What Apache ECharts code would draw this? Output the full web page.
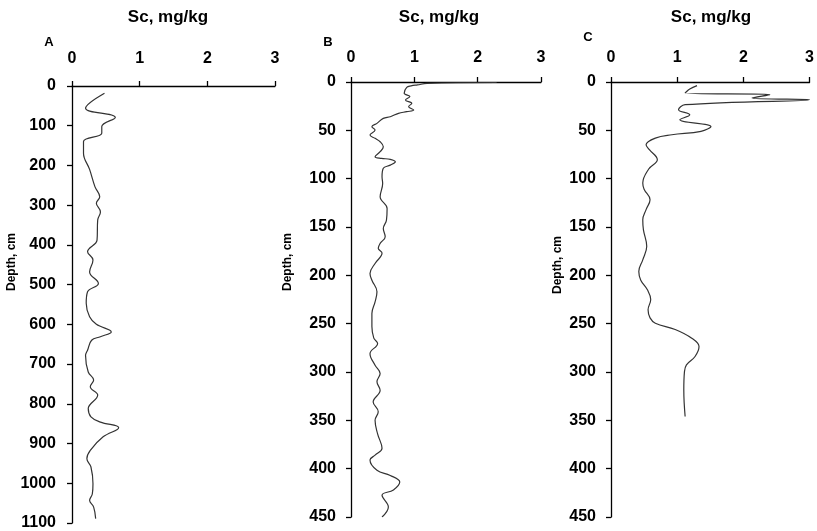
<!DOCTYPE html>
<html>
<head>
<meta charset="utf-8">
<script src="https://cdn.jsdelivr.net/npm/echarts@6/dist/echarts.min.js"></script>
<style>
  html, body { margin: 0; padding: 0; background: #fff; }
  #chart { width: 817px; height: 531px; }
</style>
</head>
<body>
<div id="chart"></div>
<script>
  // 剖面 A
  var depthA = [18, 56, 79, 102, 119, 140, 169, 210, 254, 279, 295, 317, 337, 388, 417, 438, 468, 497, 518, 547, 581, 600, 619, 631, 640, 665, 678, 720, 740, 757, 778, 812, 833, 846, 860, 883, 917, 938, 959, 1001, 1027, 1043, 1060, 1089];
  var scA = [0.48, 0.20, 0.64, 0.44, 0.44, 0.17, 0.17, 0.26, 0.34, 0.41, 0.36, 0.42, 0.38, 0.37, 0.23, 0.31, 0.26, 0.39, 0.23, 0.21, 0.26, 0.36, 0.58, 0.42, 0.29, 0.23, 0.20, 0.24, 0.32, 0.27, 0.38, 0.24, 0.28, 0.42, 0.69, 0.46, 0.27, 0.22, 0.28, 0.31, 0.30, 0.26, 0.32, 0.35];
  // 剖面 B
  var depthB = [0.5, 1.5, 3, 4, 5.5, 11.7, 15, 18.6, 22, 25.5, 29, 30.7, 32.4, 35.9, 37.6, 42.8, 46.2, 49.7, 54.9, 58.3, 61.8, 67, 72.1, 77.3, 79, 80, 82.5, 86, 89.3, 98, 105, 118.7, 130.8, 142.9, 151.5, 160, 167, 172, 177, 187.7, 198, 205, 217, 227.5, 239.5, 253, 265, 270.5, 281, 293, 301.6, 310, 319, 331, 341, 350, 364, 379, 386, 391, 401.6, 407, 413.8, 422, 427.5, 439.6, 450];
  var scB = [2.3, 1.2, 1.05, 0.95, 0.88, 0.84, 0.93, 0.86, 0.96, 0.91, 0.99, 0.88, 0.75, 0.62, 0.51, 0.41, 0.33, 0.38, 0.30, 0.38, 0.46, 0.51, 0.46, 0.38, 0.48, 0.62, 0.70, 0.62, 0.51, 0.49, 0.50, 0.46, 0.57, 0.56, 0.51, 0.54, 0.46, 0.43, 0.49, 0.38, 0.30, 0.33, 0.41, 0.38, 0.33, 0.33, 0.36, 0.42, 0.30, 0.38, 0.46, 0.41, 0.46, 0.35, 0.43, 0.38, 0.42, 0.49, 0.38, 0.30, 0.41, 0.62, 0.77, 0.67, 0.49, 0.59, 0.49];
  // 剖面 C
  var depthC = [3.8, 7.3, 11.4, 13.1, 16.6, 18.3, 23.5, 28.7, 33.9, 39, 46, 51, 54.6, 58, 65, 70, 80.4, 90, 104.5, 111, 121.8, 132, 142.5, 153, 170, 184, 196, 205, 215, 225, 235.7, 244, 249.5, 256, 265, 273.7, 284, 292.6, 299.6, 318.5, 346];
  var scC = [1.30, 1.19, 1.12, 2.40, 2.13, 3.0, 1.12, 1.02, 1.19, 1.04, 1.51, 1.36, 0.92, 0.67, 0.53, 0.58, 0.70, 0.57, 0.48, 0.50, 0.59, 0.53, 0.48, 0.49, 0.54, 0.48, 0.42, 0.45, 0.55, 0.60, 0.56, 0.59, 0.67, 0.97, 1.22, 1.33, 1.27, 1.14, 1.11, 1.10, 1.12];

  function zip(xs, ys) {
    var out = [];
    for (var i = 0; i < xs.length; i++) out.push([xs[i], ys[i]]);
    return out;
  }

  var labelFont = { fontFamily: 'Liberation Sans, Arial, sans-serif', fontWeight: 'bold', fontSize: 16, color: '#000' };
  var axisLine = { show: true, lineStyle: { color: '#000', width: 1.3 } };
  var axisTick = { show: true, length: 5, lineStyle: { color: '#000', width: 1.3 } };

  function xAxisFor(i, margin) {
    return {
      gridIndex: i, type: 'value', position: 'top', min: 0, max: 3, interval: 1,
      axisLine: axisLine, axisTick: axisTick, splitLine: { show: false },
      axisLabel: Object.assign({ margin: margin, formatter: function (v) { return String(v); } }, labelFont)
    };
  }
  function yAxisFor(i, max, step, margin) {
    return {
      gridIndex: i, type: 'value', inverse: true, min: 0, max: max, interval: step,
      axisLine: axisLine, axisTick: axisTick, splitLine: { show: false },
      axisLabel: Object.assign({ margin: margin, formatter: function (v) { return String(v); } }, labelFont)
    };
  }
  function profile(i, data) {
    return {
      type: 'line', xAxisIndex: i, yAxisIndex: i, data: data, smooth: 0.4,
      showSymbol: false, symbol: 'none',
      lineStyle: { color: '#333', width: 1.2 }
    };
  }

  var titleFont = { fontFamily: 'Liberation Sans, Arial, sans-serif', fontWeight: 'bold', fontSize: 17, color: '#000' };
  var letterFont = { fontFamily: 'Liberation Sans, Arial, sans-serif', fontWeight: 'bold', fontSize: 13, color: '#000' };

  function depthLabel(x, y) {
    return {
      type: 'text', x: x, y: y, rotation: Math.PI / 2,
      style: { text: 'Depth, cm', fill: '#000', font: 'bold 12px "Liberation Sans", Arial, sans-serif', textAlign: 'center', textVerticalAlign: 'middle' }
    };
  }

  var chart = echarts.init(document.getElementById('chart'));
  chart.setOption({
    backgroundColor: '#fff',
    animation: false,
    title: [
      { text: 'Sc, mg/kg', left: 163, top: 4, textAlign: 'center', textStyle: titleFont },
      { text: 'A', left: 44, top: 31, textAlign: 'center', textStyle: letterFont },
      { text: 'Sc, mg/kg', left: 434, top: 4, textAlign: 'center', textStyle: titleFont },
      { text: 'B', left: 323, top: 31, textAlign: 'center', textStyle: letterFont },
      { text: 'Sc, mg/kg', left: 706, top: 4, textAlign: 'center', textStyle: titleFont },
      { text: 'C', left: 583, top: 26, textAlign: 'center', textStyle: letterFont }
    ],
    graphic: [depthLabel(12, 262), depthLabel(288, 262), depthLabel(558, 265)],
    grid: [
      { left: 72, top: 86, width: 203, height: 437 },
      { left: 351, top: 82, width: 190, height: 435 },
      { left: 611, top: 82, width: 203, height: 435 }
    ],
    xAxis: [xAxisFor(0, 19), xAxisFor(1, 16), xAxisFor(2, 16)],
    yAxis: [yAxisFor(0, 1100, 100, 16), yAxisFor(1, 450, 50, 15), yAxisFor(2, 450, 50, 15)],
    series: [
      profile(0, zip(scA, depthA)),
      profile(1, zip(scB, depthB)),
      profile(2, zip(scC, depthC))
    ]
  });
</script>
</body>
</html>
